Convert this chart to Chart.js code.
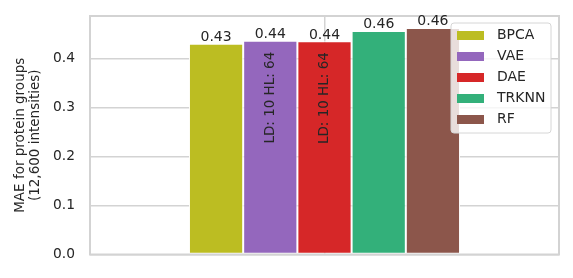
<!DOCTYPE html>
<html>
<head>
<meta charset="utf-8">
<script src="https://cdn.jsdelivr.net/npm/chart.js@4"></script>
<style>
  body { margin: 0; background: #fff; }
  #wrap { width: 573px; height: 278px; }
</style>
</head>
<body>
<div id="wrap"><canvas id="chart" width="573" height="278"></canvas></div>
<script>
// data
const categories = [''];
const methods = ['BPCA', 'VAE', 'DAE', 'TRKNN', 'RF'];
const maeValues = [0.431, 0.437, 0.436, 0.457, 0.463];
const valueLabels = ['0.43', '0.44', '0.44', '0.46', '0.46'];
const barNotes = ['', 'LD: 10 HL: 64', 'LD: 10 HL: 64', '', ''];
const barColors = ['#bcbd22', '#9467bd', '#d62728', '#33b07a', '#8c564b'];
const yTicks = [0, 0.1, 0.2, 0.3, 0.4];
const yTitle = ['MAE for protein groups', '(12,600 intensities)'];

const FONT = 'DejaVu Sans';
const TEXT = '#262626';
const GRID = '#d3d3d3';

let datasets = methods.map((m, i) => ({
    label: m,
    data: [maeValues[i]],
    backgroundColor: barColors[i],
    borderColor: '#ffffff',
    borderWidth: 1,
    borderSkipped: false,
    barPercentage: 1,
    categoryPercentage: 0.578
}));

// frame, labels on bars, notes inside bars, legend inside the plot
const extras = {
    id: 'extras',
    afterDatasetsDraw(chart) {
        const ctx = chart.ctx;
        const a = chart.chartArea;
        ctx.save();
        ctx.strokeStyle = GRID;
        ctx.lineWidth = 2;
        ctx.strokeRect(a.left, a.top, a.right - a.left, a.bottom - a.top);

        ctx.fillStyle = TEXT;
        chart.data.datasets.forEach((ds, i) => {
            const bar = chart.getDatasetMeta(i).data[0];
            ctx.font = '14px ' + FONT;
            ctx.textAlign = 'center';
            ctx.textBaseline = 'alphabetic';
            ctx.fillText(valueLabels[i], bar.x, bar.y - 2.5);
            if (barNotes[i]) {
                ctx.save();
                ctx.font = '13.5px ' + FONT;
                ctx.translate(bar.x, bar.y + 11);
                ctx.rotate(-Math.PI / 2);
                ctx.textAlign = 'right';
                ctx.textBaseline = 'middle';
                ctx.fillText(barNotes[i], 0, 0);
                ctx.restore();
            }
        });

        // legend box
        const lx = 451, ly = 23, lw = 100, lh = 110, r = 3;
        ctx.beginPath();
        ctx.roundRect(lx, ly, lw, lh, r);
        ctx.fillStyle = 'rgba(255,255,255,0.8)';
        ctx.fill();
        ctx.strokeStyle = '#d6d6d6';
        ctx.lineWidth = 1;
        ctx.stroke();
        ctx.font = '14px ' + FONT;
        ctx.textAlign = 'left';
        ctx.textBaseline = 'middle';
        chart.data.datasets.forEach((ds, i) => {
            const cy = 35.5 + i * 21;
            ctx.fillStyle = ds.backgroundColor;
            ctx.fillRect(lx + 6, cy - 4.5, 27, 9);
            ctx.fillStyle = TEXT;
            ctx.fillText(ds.label, lx + 46, cy);
        });
        ctx.restore();
    }
};

new Chart('chart', {
    type: 'bar',
    data: { labels: categories, datasets: datasets },
    options: {
        responsive: false,
        animation: false,
        events: [],
        layout: { padding: { top: 16, right: 14, bottom: 23.5, left: 0 } },
        plugins: { legend: { display: false }, tooltip: { enabled: false } },
        scales: {
            x: {
                ticks: { display: false },
                grid: { color: GRID, lineWidth: 1.5, drawTicks: false, offset: false },
                border: { display: false },
                afterFit: s => { s.height = 0; s.paddingLeft = 0; s.paddingRight = 0; }
            },
            y: {
                min: 0,
                max: 0.4875,
                afterFit: s => { s.width = 90; s.paddingTop = 0; s.paddingBottom = 0; },
                afterBuildTicks: s => { s.ticks = yTicks.map(v => ({ value: v })); },
                ticks: {
                    padding: 15,
                    color: TEXT,
                    font: { family: FONT, size: 13.8 },
                    callback: v => v.toFixed(1)
                },
                grid: { color: GRID, lineWidth: 1.5, drawTicks: false },
                border: { display: false },
                title: {
                    display: true,
                    text: yTitle,
                    color: TEXT,
                    font: { family: FONT, size: 13.5, lineHeight: 1.08 },
                    padding: { top: 13.5, bottom: 0 }
                }
            }
        }
    },
    plugins: [extras]
});
</script>
</body>
</html>
